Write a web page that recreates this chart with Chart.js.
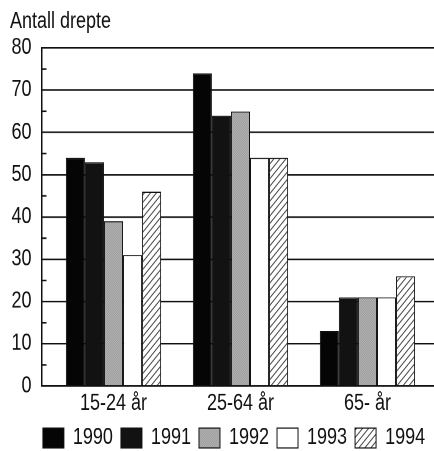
<!DOCTYPE html>
<html>
<head>
<meta charset="utf-8">
<script src="https://cdn.jsdelivr.net/npm/chart.js@4.4.1/dist/chart.umd.min.js"></script>
<style>
  html { overflow: hidden; }
  html, body { margin: 0; padding: 0; background: #fff; }
  body { height: 451px; }
  /* the original print uses a narrow face; stretch the drawing vertically to get that look */
  #chart { display: block; transform: scaleY(1.24); transform-origin: 0 0; }
</style>
</head>
<body>
<canvas id="chart" width="434" height="364"></canvas>
<script>
const categories = ['15-24 år', '25-64 år', '65- år']
const years = ['1990', '1991', '1992', '1993', '1994']
const values1990 = [54, 74, 13]
const values1991 = [53, 64, 21]
const values1992 = [39, 65, 21]
const values1993 = [31, 54, 21]
const values1994 = [46, 54, 26]
const yTicks = [0, 10, 20, 30, 40, 50, 60, 70, 80]
const yMinorTicks = [5, 15, 25, 35, 45, 55, 65, 75]

const ink = '#111'
Chart.defaults.font.family = "'Liberation Sans', Arial, sans-serif"
Chart.defaults.font.size = 18
Chart.defaults.color = ink

function makeDither() {
  const c = document.createElement('canvas')
  c.width = 2
  c.height = 2
  const g = c.getContext('2d')
  g.fillStyle = '#8a8a8a'
  g.fillRect(0, 0, 2, 2)
  g.fillStyle = '#c6c6c6'
  g.fillRect(0, 0, 1, 1)
  g.fillRect(1, 1, 1, 1)
  return g.createPattern(c, 'repeat')
}

function makeHatch() {
  const s = 6
  const c = document.createElement('canvas')
  c.width = s * 4
  c.height = s * 4
  const g = c.getContext('2d')
  g.scale(4, 4)
  g.fillStyle = '#fff'
  g.fillRect(0, 0, s, s)
  g.strokeStyle = '#444'
  g.lineWidth = 0.9
  g.beginPath()
  g.moveTo(-1, s + 1)
  g.lineTo(s + 1, -1)
  g.moveTo(-1, 1)
  g.lineTo(1, -1)
  g.moveTo(s - 1, s + 1)
  g.lineTo(s + 1, s - 1)
  g.stroke()
  const p = g.createPattern(c, 'repeat')
  p.setTransform(new DOMMatrix().scale(0.25))
  return p
}

// small inward ticks at the half steps on the y axis
const minorTicks = {
  id: 'minorTicks',
  afterDraw(chart) {
    const { ctx, scales } = chart
    const y = scales.y
    const x0 = chart.chartArea.left
    ctx.save()
    ctx.strokeStyle = ink
    ctx.lineWidth = 1.3
    ctx.beginPath()
    yMinorTicks.forEach((v) => {
      const py = y.getPixelForValue(v)
      ctx.moveTo(x0, py)
      ctx.lineTo(x0 + 5, py)
    })
    ctx.stroke()
    ctx.restore()
  },
}

// the legend sits right of centre in the original
const legendShift = {
  id: 'legendShift',
  afterLayout(chart) {
    const lg = chart.legend
    lg.left += 12
    lg.right += 12
    lg.top -= 3.7
    lg.bottom -= 3.7
  },
}

const series = [values1990, values1991, values1992, values1993, values1994]
const fills = ['#050505', '#121212', makeDither(), '#ffffff', makeHatch()]

const chart = new Chart(document.getElementById('chart'), {
  type: 'bar',
  data: {
    labels: categories.map((c, i) => i),
    datasets: years.map((yr, k) => ({
      label: yr,
      data: series[k],
      backgroundColor: fills[k],
      borderColor: ink,
      borderWidth: 1,
    })),
  },
  options: {
    responsive: false,
    devicePixelRatio: 2,
    animation: false,
    layout: { padding: { left: 10, right: 0, top: 0, bottom: -11.9 } },
    datasets: { bar: { categoryPercentage: 0.75, barPercentage: 1 } },
    plugins: {
      title: {
        display: true,
        text: 'Antall drepte',
        align: 'start',
        padding: { top: 6.9, bottom: 10.2 },
        font: { size: 18, weight: 'normal' },
        color: ink,
      },
      legend: {
        position: 'bottom',
        labels: {
          boxWidth: 21,
          boxHeight: 16,
          padding: 8,
          font: { size: 18 },
          color: ink,
        },
      },
      tooltip: { enabled: false },
    },
    scales: {
      x: {
        type: 'linear',
        offset: false,
        min: -0.567,
        max: 2.524,
        grid: { display: false, drawTicks: false },
        border: { color: ink, width: 1.3 },
        afterBuildTicks: (s) => {
          s.ticks = categories.map((c, i) => ({ value: i }))
        },
        ticks: {
          callback: (v) => categories[v] ?? '',
          padding: 3.5,
          maxRotation: 0,
          autoSkip: false,
        },
      },
      y: {
        min: 0,
        max: 80,
        afterBuildTicks: (s) => {
          s.ticks = yTicks.map((v) => ({ value: v }))
        },
        ticks: { padding: 10, autoSkip: false },
        grid: { drawTicks: false, color: ink, lineWidth: 1.3 },
        border: { color: ink, width: 1.5 },
        afterFit: (s) => {
          s.width = 31.5
        },
      },
    },
  },
  plugins: [minorTicks, legendShift],
})
</script>
</body>
</html>
